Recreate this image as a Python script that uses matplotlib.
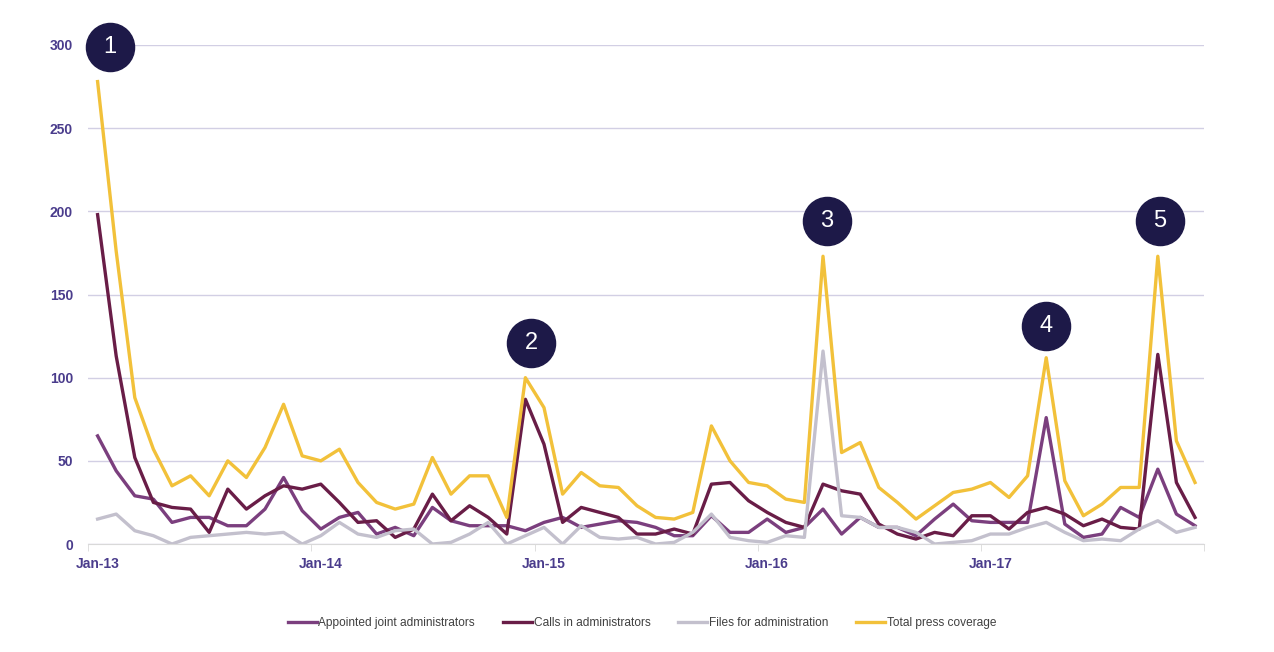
import matplotlib
matplotlib.use("Agg")
import matplotlib.pyplot as plt
import numpy as np

# monthly, Jan-13 .. Dec-17
months = [f"{m}-{y}" for y in range(13, 18) for m in
          ["Jan", "Feb", "Mar", "Apr", "May", "Jun", "Jul", "Aug", "Sep", "Oct", "Nov", "Dec"]]

appointed = [65, 44, 29, 27, 13, 16, 16, 11, 11, 21, 40, 20,
             9, 16, 19, 6, 10, 5, 22, 14, 11, 11, 11, 8,
             13, 16, 10, 12, 14, 13, 10, 5, 5, 17, 7, 7,
             15, 7, 10, 21, 6, 16, 10, 10, 5, 15, 24, 14,
             13, 13, 13, 76, 12, 4, 6, 22, 16, 45, 18, 11]

calls_in = [198, 113, 52, 25, 22, 21, 7, 33, 21, 29, 35, 33,
            36, 25, 13, 14, 4, 9, 30, 14, 23, 16, 6, 87,
            60, 13, 22, 19, 16, 6, 6, 9, 6, 36, 37, 26,
            19, 13, 10, 36, 32, 30, 12, 6, 3, 7, 5, 17,
            17, 9, 19, 22, 18, 11, 15, 10, 9, 114, 37, 16]

files_for = [15, 18, 8, 5, 0, 4, 5, 6, 7, 6, 7, 0,
             5, 13, 6, 4, 8, 9, 0, 1, 6, 13, 0, 5,
             10, 0, 11, 4, 3, 4, 0, 1, 7, 18, 4, 2,
             1, 5, 4, 116, 17, 16, 10, 10, 7, 0, 1, 2,
             6, 6, 10, 13, 7, 2, 3, 2, 9, 14, 7, 10]

press_total = [278, 176, 88, 57, 35, 41, 29, 50, 40, 58, 84, 53,
               50, 57, 37, 25, 21, 24, 52, 30, 41, 41, 16, 100,
               82, 30, 43, 35, 34, 23, 16, 15, 19, 71, 50, 37,
               35, 27, 25, 173, 55, 61, 34, 25, 15, 23, 31, 33,
               37, 28, 41, 112, 38, 17, 24, 34, 34, 173, 62, 37]

series_names = ["Appointed joint administrators", "Calls in administrators",
                "Files for administration", "Total press coverage"]
colors = ["#7b3f7e", "#691d47", "#c3c0cd", "#f2c13a"]

# numbered callouts (month index, value)
callout_labels = ["1", "2", "3", "4", "5"]
callout_x = [0.67, 23.3, 39.2, 51.0, 57.1]
callout_y = [299, 121, 194, 131, 194]

tick_color = "#4a3c8c"
base_font = ["Liberation Sans", "DejaVu Sans"]

fig = plt.figure(figsize=(12.74, 6.52), dpi=100)
ax = fig.add_axes([0.0693, 0.1656, 0.876, 0.7654])

x = np.arange(len(months))
for vals, name, c in zip([appointed, calls_in, files_for, press_total], series_names, colors):
    ax.plot(x, vals, color=c, lw=2.4, label=name)

ax.set_xlim(-0.5, len(months) - 0.5)
ax.set_ylim(0, 300)
ax.set_yticks(range(0, 301, 50))
ax.grid(axis="y", color="#d2cfe4", lw=1)
ax.set_axisbelow(True)

jan_idx = [i for i, m in enumerate(months) if m.startswith("Jan")]
ax.set_xticks(jan_idx)
ax.set_xticklabels([months[i] for i in jan_idx])
ax.set_xticks([i - 0.5 for i in jan_idx] + [len(months) - 0.5], minor=True)
ax.tick_params(axis="x", which="major", length=0, pad=9, labelcolor=tick_color, labelsize=10)
ax.tick_params(axis="x", which="minor", length=5, color="#d9d9d9")
ax.tick_params(axis="y", length=0, pad=11, labelcolor=tick_color, labelsize=10)
for lab in ax.get_xticklabels() + ax.get_yticklabels():
    lab.set_fontweight("bold")
    lab.set_family(base_font)

for s in ["top", "right", "left"]:
    ax.spines[s].set_visible(False)
ax.spines["bottom"].set_color("#d9d9d9")

ax.scatter(callout_x, callout_y, s=1200, color="#1d1948", zorder=5, clip_on=False)
for lx, ly, t in zip(callout_x, callout_y, callout_labels):
    ax.text(lx, ly, t, color="white", fontsize=17, ha="center", va="center",
            family=base_font, zorder=6)

leg = fig.legend(loc="center", bbox_to_anchor=(0.504, 0.0445), ncol=4, frameon=False,
                 handlelength=2.4, handletextpad=0.15, columnspacing=2.35,
                 prop={"family": ["Liberation Sans Narrow", "Liberation Sans"], "size": 8.6})
for t in leg.get_texts():
    t.set_color("#404040")

fig.savefig("out.png", dpi=100)
